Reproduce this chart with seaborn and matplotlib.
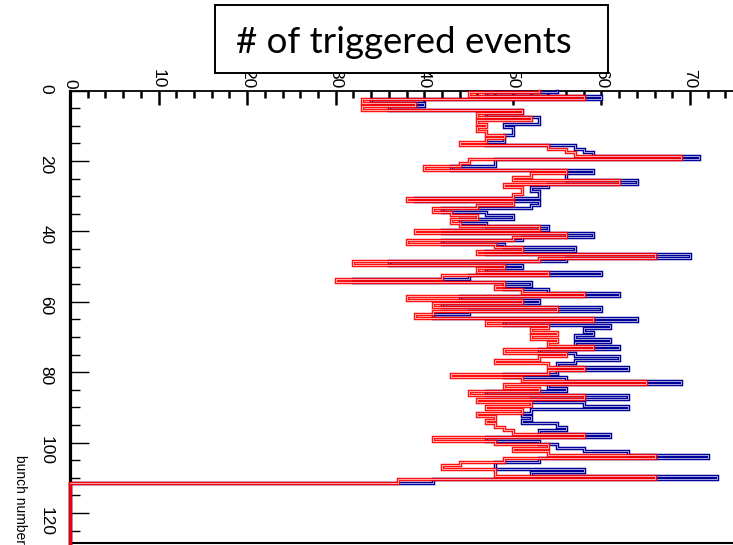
import numpy as np
import pandas as pd
import matplotlib
matplotlib.use("Agg")
import matplotlib.pyplot as plt
import seaborn as sns
from matplotlib.patches import Rectangle
from matplotlib.ticker import MultipleLocator

# ---------------- data ----------------
title_text = "# of triggered events"
y_axis_title = "bunch number"
n_bins = 129  # bunches 0..128

red_counts = [53, 45, 58, 33, 39, 33, 51, 46, 52, 46,
              47, 46, 47, 49, 47, 44, 54, 56, 57, 69,
              45, 44, 40, 56, 52, 50, 62, 49, 51, 51,
              50, 38, 50, 46, 41, 43, 46, 43, 44, 53,
              39, 56, 50, 38, 48, 51, 46, 66, 53, 32,
              49, 46, 54, 42, 30, 49, 48, 51, 58, 38,
              51, 41, 55, 41, 39, 59, 47, 54, 52, 55,
              52, 55, 54, 59, 49, 56, 53, 48, 54, 58,
              54, 43, 51, 65, 49, 53, 45, 58, 46, 52,
              47, 51, 46, 48, 47, 48, 49, 50, 58, 41,
              48, 54, 50, 54, 66, 49, 44, 42, 48, 48,
              66, 37]

blue_counts = [55, 47, 60, 34, 40, 36, 51, 47, 53, 53,
               49, 50, 50, 49, 49, 47, 57, 58, 59, 71,
               48, 48, 43, 59, 56, 56, 64, 54, 52, 53,
               53, 39, 53, 52, 42, 47, 50, 44, 47, 54,
               42, 59, 51, 42, 49, 57, 47, 70, 56, 36,
               51, 47, 60, 45, 32, 52, 49, 54, 62, 44,
               53, 42, 60, 45, 41, 64, 49, 61, 58, 59,
               57, 61, 57, 62, 53, 57, 62, 57, 55, 63,
               55, 49, 56, 69, 54, 56, 47, 63, 52, 58,
               63, 52, 51, 52, 51, 55, 56, 53, 61, 47,
               53, 55, 58, 63, 72, 53, 48, 48, 58, 52,
               73, 41]

# ---------------- helpers ----------------
def step_frame(counts, upto=None):
    vals = np.zeros(n_bins)
    vals[:len(counts)] = counts
    # bin k covers [k-0.5, k+0.5]; the visible part of bin 0 starts at 0
    edges = np.concatenate([[0.0], np.arange(0.5, n_bins, 1.0)])
    vals = np.append(vals, vals[-1])
    df = pd.DataFrame({"count": vals, "bunch": edges})
    if upto is not None:
        df = df.iloc[:upto + 1]
    return df

sns.set_theme(style="white")
plt.rcParams["font.family"] = ["Liberation Sans Narrow", "Liberation Sans", "DejaVu Sans"]

W, H = 733, 545
fig = plt.figure(figsize=(W / 100, H / 100), dpi=100)
fig.patch.set_facecolor("white")

ax_top, ax_bot, ax_left = 90.5, 543.0, 70.0
ax = fig.add_axes([ax_left / W, (H - ax_bot) / H, (W - ax_left) / W, (ax_bot - ax_top) / H])
ax.set_facecolor("white")

px_per_unit = 8.858
px_per_bunch = 3.52
ax.set_xlim(0, (W - ax_left) / px_per_unit)
ax.set_ylim((ax_bot - ax_top) / px_per_bunch, 0)

blue = "#000099"
red = "#ff0000"
n_data = len(red_counts)

for counts, col, z in [(blue_counts, blue, 5), (red_counts, red, 7)]:
    sns.lineplot(data=step_frame(counts), x="count", y="bunch", sort=False,
                 estimator=None, drawstyle="steps-pre", color=col, lw=2.5,
                 alpha=0.93 if col == red else 1.0, ax=ax, clip_on=False,
                 zorder=z, solid_joinstyle="miter", solid_capstyle="projecting")
    sns.lineplot(data=step_frame(counts, upto=n_data), x="count", y="bunch",
                 sort=False, estimator=None, drawstyle="steps-pre", color="white",
                 lw=0.65, alpha=0.7, ax=ax, clip_on=False, zorder=z + 1,
                 solid_joinstyle="miter")

ax.set_xlabel("")
ax.set_ylabel("")

# axes / spines
for s in ["top", "left", "bottom"]:
    ax.spines[s].set_color("black")
ax.spines["right"].set_visible(False)
ax.spines["top"].set_linewidth(1.3)
ax.spines["left"].set_linewidth(2.3)
ax.spines["bottom"].set_linewidth(1.5)

ax.xaxis.set_ticks_position("top")
ax.xaxis.set_major_locator(MultipleLocator(10))
ax.xaxis.set_minor_locator(MultipleLocator(2))
ax.yaxis.set_major_locator(MultipleLocator(20))
ax.yaxis.set_minor_locator(MultipleLocator(5))

ax.tick_params(axis="x", which="major", direction="in", length=10, width=1.8,
               top=True, bottom=False, labeltop=True, labelbottom=False,
               labelrotation=-90, labelsize=12.5, pad=1.5, colors="black")
ax.tick_params(axis="x", which="minor", direction="in", length=5, width=1.8,
               top=True, bottom=False, colors="black")
ax.tick_params(axis="y", which="major", direction="in", length=13.5, width=1.0,
               left=True, right=False, labelrotation=-90, labelsize=12.5, pad=12,
               colors="black")
ax.tick_params(axis="y", which="minor", direction="in", length=7, width=1.0,
               left=True, right=False, colors="black")

# axis title (rotated like the rest of the canvas)
fig.text(20 / W, 0.002, y_axis_title, rotation=-90, ha="center", va="bottom",
         fontsize=10, color="black")

# title box
box = Rectangle((215 / W, (H - 73) / H), 393 / W, 68 / H, transform=fig.transFigure,
                facecolor="white", edgecolor="black", lw=1.4, zorder=10)
fig.add_artist(box)
t = fig.text(404 / W, (H - 53) / H, title_text, ha="center", va="baseline",
             fontsize=28, color="black", family=["Lato", "DejaVu Sans"], zorder=11)
fig.canvas.draw()
w = t.get_window_extent().width
t.set_fontsize(28 * 336 / w)

fig.savefig("out.png", dpi=100, facecolor="white")
